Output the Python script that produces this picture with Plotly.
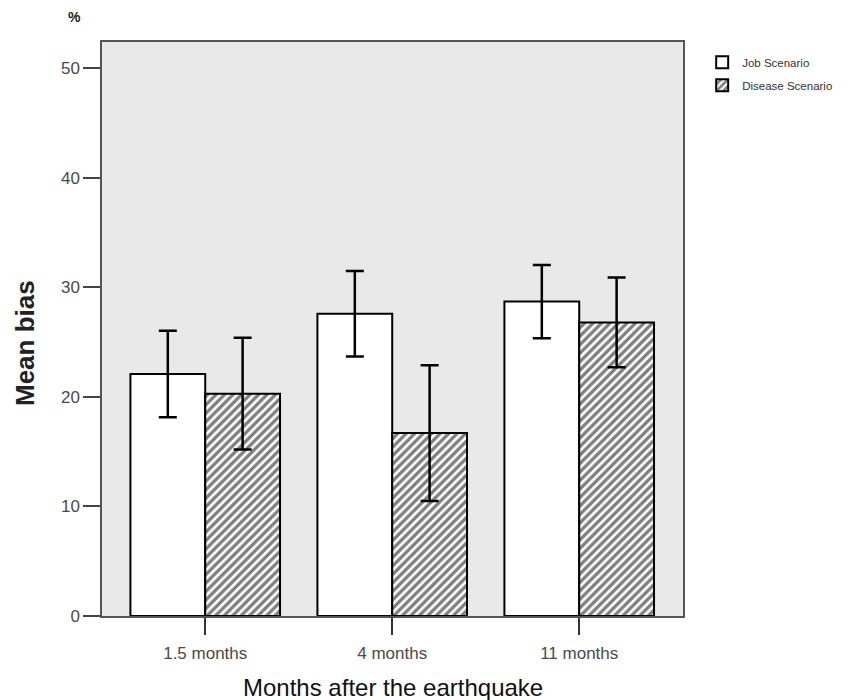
import plotly.graph_objects as go

categories = ["1.5 months", "4 months", "11 months"]
job_means = [22.1, 27.6, 28.7]
job_err = [3.95, 3.9, 3.35]
disease_means = [20.3, 16.7, 26.8]
disease_err = [5.1, 6.2, 4.1]
y_ticks = [0, 10, 20, 30, 40, 50]

fig = go.Figure()
fig.add_trace(go.Bar(
    x=categories, y=job_means, name="Job Scenario", legendgroup="a",
    marker=dict(color="white", line=dict(color="black", width=2)),
    error_y=dict(type="data", array=job_err, color="black", thickness=2.5, width=9),
))
fig.add_trace(go.Bar(
    x=categories, y=disease_means, name="Disease Scenario", legendgroup="b",
    marker=dict(color="white", line=dict(color="black", width=2),
                pattern=dict(shape="/", fgcolor="black", bgcolor="white", size=6, solidity=0.55)),
    error_y=dict(type="data", array=disease_err, color="black", thickness=2.5, width=9),
))

fig.update_layout(
    width=866, height=700,
    margin=dict(l=94, r=191, t=34, b=92, autoexpand=False),
    paper_bgcolor="white", plot_bgcolor="#e9e9e9",
    barmode="group", bargap=0.2, bargroupgap=0,
    font=dict(family="Arial, Liberation Sans, sans-serif", color="#444"),
    showlegend=True,
    legend=dict(x=1.033, y=0.99, xanchor="left", yanchor="top",
                font=dict(size=11.5, color="#333"), bgcolor="rgba(0,0,0,0)",
                tracegroupgap=4, itemwidth=30),
    xaxis=dict(
        range=[-0.552, 2.555], showgrid=False,
        ticks="outside", ticklen=17, tickwidth=1.5, tickcolor="#333",
        tickfont=dict(size=17, color="#4a4a4a"), ticklabelstandoff=4,
        showline=True, linecolor="#555", linewidth=1.5, mirror=True,
    ),
    yaxis=dict(
        range=[0, 52.4], tickvals=y_ticks, showgrid=False, zeroline=False,
        ticks="outside", ticklen=17, tickwidth=2, tickcolor="#444",
        tickfont=dict(size=17, color="#4a4a4a"),
        showline=True, linecolor="#555", linewidth=1.5, mirror=True,
    ),
)
fig.add_annotation(text="<b>%</b>", xref="paper", yref="paper", x=-0.0465, y=1.0436,
                   showarrow=False, font=dict(size=14, color="#222"), xanchor="center", yanchor="middle")
fig.add_annotation(text="<b>Mean bias</b>", xref="paper", yref="paper", x=-0.1325, y=0.4756,
                   textangle=-90, showarrow=False, font=dict(size=26, color="#222"),
                   xanchor="center", yanchor="middle")
fig.add_annotation(text="Months after the earthquake", xref="paper", yref="paper", x=0.5, y=-0.1254,
                   showarrow=False, font=dict(size=24, color="#111"),
                   xanchor="center", yanchor="middle")

fig.write_html("out.html")
